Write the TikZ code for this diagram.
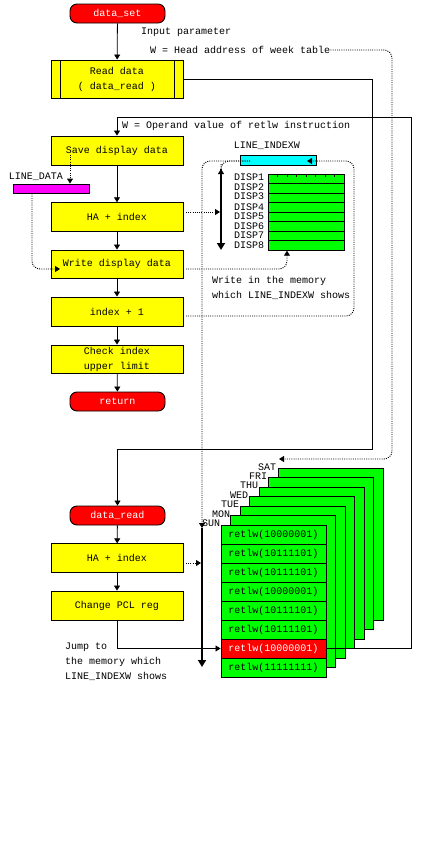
\documentclass[tikz,border=0pt]{standalone}
\usepackage{fontspec}
\setmainfont{Liberation Mono}
\usetikzlibrary{arrows.meta}
\definecolor{procyellow}{RGB}{255,255,0}
\definecolor{cellgreen}{RGB}{0,255,0}
\definecolor{termred}{RGB}{255,0,0}
\definecolor{barcyan}{RGB}{0,255,255}
\definecolor{barmagenta}{RGB}{255,0,255}
\tikzset{
  procbox/.style={draw, fill=procyellow, line width=0.9pt, minimum width=132pt, inner sep=0pt, align=center, font=\fontsize{10}{15}\selectfont},
  termbox/.style={draw, fill=termred, text=white, line width=0.9pt, rounded corners=7pt, minimum width=95pt, minimum height=19pt, inner sep=0pt},
  lbl/.style={inner sep=0pt, anchor=west, font=\fontsize{10}{15}\selectfont, align=left},
  flow/.style={line width=0.8pt, -{Triangle[length=5pt,width=6pt]}},
  dotflow/.style={line width=0.9pt, dash pattern=on 1pt off 1.2pt, rounded corners=8pt, -{Triangle[length=5pt,width=6pt]}},
  heavy/.style={line width=2pt, -{Triangle[length=7pt,width=8pt]}},
  dispcell/.style={draw, fill=cellgreen, line width=0.9pt, minimum width=76pt, minimum height=9.5pt, inner sep=0pt},
  card/.style={draw, fill=cellgreen, line width=0.9pt, minimum width=105pt, minimum height=152pt, inner sep=0pt},
  memrow/.style={draw, fill=cellgreen, line width=0.9pt, minimum width=105pt, minimum height=19pt, inner sep=0pt, font=\fontsize{10}{12}\selectfont},
  tag/.style={inner sep=0pt, font=\fontsize{10}{10}\selectfont}
}
\begin{document}
\begin{tikzpicture}[x=1pt, y=-1pt]
  \useasboundingbox (0,0) rectangle (423,841);
  % upper flow chart
  \node[termbox] (dataset) at (117.5,13.5) {data\_set};
  \node[procbox, minimum height=38pt] (readbox) at (117,79) {Read data\\( data\_read )};
  \draw[line width=0.9pt] (60,60) -- (60,98) (174,60) -- (174,98);
  \node[procbox, minimum height=29pt] (savebox) at (117,150.5) {Save display data};
  \node[procbox, minimum height=28.5pt] (hatop) at (117,217) {HA + index};
  \node[procbox, minimum height=28pt] (writebox) at (117,264) {Write display data};
  \node[procbox, minimum height=29pt] (incbox) at (117,311.5) {index + 1};
  \node[procbox, minimum height=28pt] (checkbox) at (117,359) {Check index\\upper limit};
  \node[termbox] (returnbox) at (117.5,401.5) {return};
  \draw[flow] (dataset) -- (readbox);
  \draw[flow] (savebox) -- (hatop);
  \draw[flow] (hatop) -- (writebox);
  \draw[flow] (writebox) -- (incbox);
  \draw[flow] (incbox) -- (checkbox);
  \draw[flow] (checkbox) -- (returnbox);
  % texts
  \node[lbl] (inputtext) at (141,32) {Input parameter};
  \node[lbl] (weektext) at (150,50) {W = Head address of week table};
  \node[lbl] (operandtext) at (122,126) {W = Operand value of retlw instruction};
  \node[lbl] (writetext) at (212,287.5) {Write in the memory\\which LINE\_INDEXW shows};
  \node[lbl] (jumptext) at (65,662) {Jump to\\the memory which\\LINE\_INDEXW shows};
  % variables
  \node[tag, anchor=center] (linedatatext) at (36,177) {LINE\_DATA};
  \node[draw, fill=barmagenta, line width=0.9pt, minimum width=76pt, minimum height=9pt, inner sep=0pt] (linedatabar) at (51,188.5) {};
  \node[tag, anchor=center] (lineindextext) at (267,145.5) {LINE\_INDEXW};
  \node[draw, fill=barcyan, line width=0.9pt, minimum width=76pt, minimum height=10pt, inner sep=0pt] (lineindexbar) at (278,160) {};
  % display memory
  \foreach \rownum/\rowy in {1/179, 2/188.5, 3/198, 4/207.5, 5/217, 6/226.5, 7/236, 8/245.5} {
    \node[dispcell] (disprow\rownum) at (306,\rowy) {};
  }
  \foreach \tick in {1,...,7} {
    \draw[line width=0.6pt] (268+9.5*\tick,174) -- (268+9.5*\tick,177);
  }
  \foreach \rownum/\labely in {1/177, 2/187, 3/196, 4/207, 5/216, 6/226, 7/235, 8/245} {
    \node[tag, anchor=west] (disptext\rownum) at (234,\labely) {DISP\rownum};
  }
  \coordinate (indexbartop) at (221,169);
  \coordinate (indexbarend) at (221,250);
  \draw[heavy] (indexbartop) -- (indexbarend);
  % week table
  \foreach \dayname/\cardx/\cardy in {sat/330.5/544.5, fri/320.5/553.5, thu/311.5/563, wed/301.5/572.5, tue/292.5/582.5, mon/282.5/591.5} {
    \node[card] (card\dayname) at (\cardx,\cardy) {};
  }
  \foreach \rownum/\rowbits/\rowy in {1/10000001/534.5, 2/10111101/553.5, 3/10111101/572.5, 4/10000001/591.5, 5/10111101/610.5, 6/10111101/629.5, 8/11111111/667.5} {
    \node[memrow] (retlw\rownum) at (273.5,\rowy) {retlw(\rowbits)};
  }
  \node[memrow, fill=termred, text=white] (retlw7) at (273.5,648.5) {retlw(10000001)};
  \foreach \dayname/\daytext/\tagx/\tagy in {sun/SUN/211/523, mon/MON/221/514, tue/TUE/230/504, wed/WED/239/495, thu/THU/249/485, fri/FRI/258/476, sat/SAT/267/467} {
    \node[tag] (tag\dayname) at (\tagx,\tagy) {\daytext};
  }
  % lower flow chart
  \node[termbox] (dataread) at (117.5,515.5) {data\_read};
  \node[procbox, minimum height=28.5pt] (habottom) at (117,558) {HA + index};
  \node[procbox, minimum height=29pt] (pclbox) at (117,605.5) {Change PCL reg};
  \draw[flow] (dataread) -- (habottom);
  \draw[flow] (habottom) -- (pclbox);
  \coordinate (weekbartop) at (202,528);
  \coordinate (weekbarend) at (202,667);
  \draw[heavy] (weekbartop) -- (weekbarend);
  \draw[flow] (pclbox.south) |- (retlw7.west);
  % long connectors
  \coordinate (readturn) at (372,449);
  \draw[flow] (readbox.east) -| (readturn) -| (dataread.north);
  \coordinate (loopturn) at (411,117);
  \draw[flow] (retlw7.east) -| (loopturn) -| (savebox.north);
  % dotted connectors
  \coordinate (weekcorner) at (392,50);
  \coordinate (weekdrop) at (392,459);
  \coordinate (weekend) at (279,459);
  \draw[dotflow] (weektext.east) -- (weekcorner) -- (weekdrop) -- (weekend);
  \coordinate (savetap) at (70,155);
  \draw[dotflow] (savetap) -- (savetap |- linedatabar.north);
  \coordinate (linedatadrop) at (32,269);
  \coordinate (writein) at (60,269);
  \draw[dotflow] (linedatadrop |- linedatabar.south) -- (linedatadrop) -- (writein);
  \coordinate (hatoptap) at (186,212);
  \coordinate (hatopend) at (220,212);
  \draw[dotflow] (hatoptap) -- (hatopend);
  \coordinate (indexleft) at (250,161);
  \coordinate (indexcorner) at (202,161);
  \draw[dotflow] (indexleft) -- (indexcorner) -- (weekbartop);
  \coordinate (indexelbow) at (221,161);
  \draw[dotflow] (indexleft) -- (indexelbow) -- (indexbartop);
  \coordinate (writetap) at (186,269);
  \coordinate (writecorner) at (287,269);
  \draw[dotflow] (writetap) -- (writecorner) -- (disprow8.south -| writecorner);
  \coordinate (inctap) at (186,316);
  \coordinate (incbottom) at (354,316);
  \coordinate (inctop) at (354,161);
  \coordinate (indexright) at (307,161);
  \draw[dotflow] (inctap) -- (incbottom) -- (inctop) -- (indexright);
  \coordinate (habottomtap) at (186,563);
  \coordinate (habottomend) at (201,563);
  \draw[dotflow] (habottomtap) -- (habottomend);
\end{tikzpicture}
\end{document}
